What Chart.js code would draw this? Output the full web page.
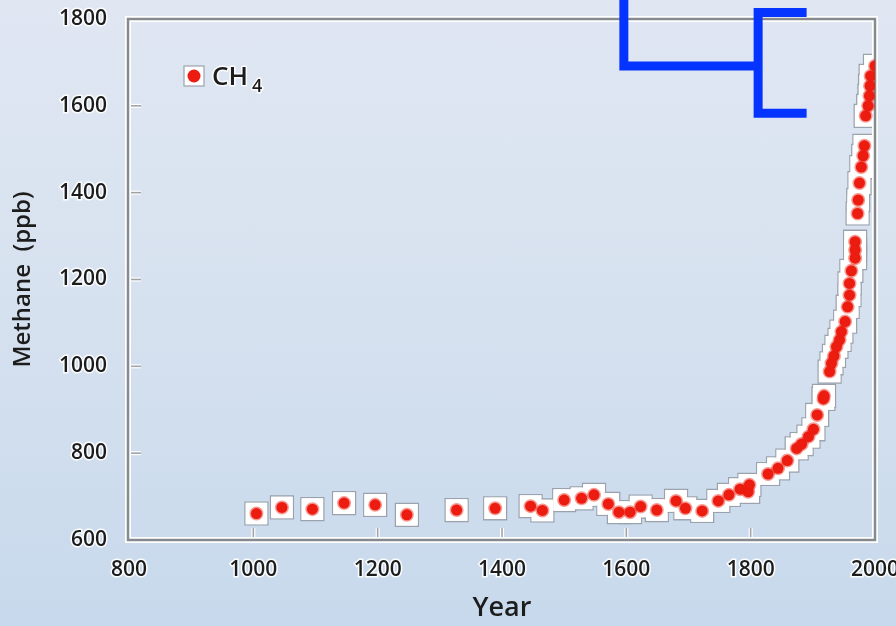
<!DOCTYPE html>
<html>
<head>
<meta charset="utf-8">
<script src="https://cdn.jsdelivr.net/npm/chart.js@4.4.1/dist/chart.umd.min.js"></script>
<style>
  html, body { margin: 0; padding: 0; }
  body {
    width: 896px; height: 626px; overflow: hidden;
    background: linear-gradient(to bottom, #e0e7f3 0%, #d6e1ef 50%, #c7d9ec 100%);
  }
  #wrap { width: 896px; height: 626px; }
</style>
</head>
<body>
<div id="wrap"><canvas id="Methane" width="896" height="626"></canvas></div>
<script>
// ice core / atmospheric methane
var years = [1005, 1046, 1095, 1146, 1196, 1247, 1327, 1389, 1446, 1465,
    1500, 1528, 1548, 1571, 1588, 1606, 1623, 1649, 1680, 1695,
    1722, 1748, 1765, 1783, 1796, 1798, 1828, 1844, 1859, 1874,
    1882, 1893, 1901, 1907, 1917, 1918, 1927, 1930, 1934, 1938,
    1943, 1946, 1952, 1956, 1959, 1959, 1962, 1968, 1968, 1968,
    1972, 1973, 1975, 1978, 1981, 1983, 1985, 1989, 1991, 1992,
    1993, 2000];
var methane = [661, 675, 671, 685, 681, 658, 669, 673, 678, 668,
    692, 696, 704, 683, 664, 664, 677, 669, 690, 673,
    667, 690, 704, 717, 711, 727, 752, 765, 783, 811,
    821, 838, 855, 888, 925, 932, 988, 1007, 1024, 1045,
    1061, 1080, 1103, 1137, 1164, 1191, 1220, 1249, 1268, 1287,
    1352, 1383, 1422, 1459, 1485, 1508, 1577, 1600, 1623, 1646,
    1669, 1692];

var xTicks = [800, 1000, 1200, 1400, 1600, 1800, 2000];
var yTicks = [600, 800, 1000, 1200, 1400, 1600, 1800];

// blue bracket drawn over the top right corner (null = pen up)
var bracketX = [1596, 1596, 1812, 1812, 1890, 1812, 1812, 1890];
var bracketY = [1848, 1692, 1692, null, 1815, 1815, 1583, 1583];

var seriesLabel = "CH4";

function pts(xs, ys) {
    return xs.map(function (x, i) { return { x: x, y: ys[i] }; });
}

var RED = "rgb(236, 28, 16)";
var HALO_EDGE = "#9aa3ad";
var INK = "#1c1c1c";
var FONT = "'Open Sans'";

var frameAndTicks = {
    id: "frameAndTicks",
    afterDatasetDraw: function (chart, args) {
        if (args.index !== 1) return;
        var ctx = chart.ctx, a = chart.chartArea;
        var xs = chart.scales.x, ys = chart.scales.y;
        ctx.save();
        ctx.lineCap = "butt";
        // inward tick marks
        var L = 12;
        function tick(x1, y1, x2, y2) {
            ctx.strokeStyle = "#ffffff";
            ctx.lineWidth = 4;
            ctx.beginPath(); ctx.moveTo(x1, y1); ctx.lineTo(x2, y2); ctx.stroke();
            ctx.strokeStyle = "#a0a4a8";
            ctx.lineWidth = 1.6;
            ctx.beginPath(); ctx.moveTo(x1, y1); ctx.lineTo(x2, y2); ctx.stroke();
        }
        yTicks.slice(1, -1).forEach(function (v) {
            var y = ys.getPixelForValue(v);
            tick(a.left, y, a.left + L, y);
        });
        xTicks.slice(1, -1).forEach(function (v) {
            var x = xs.getPixelForValue(v);
            tick(x, a.bottom, x, a.bottom - L);
        });
        // double-line frame
        ctx.strokeStyle = "#ffffff";
        ctx.lineWidth = 6;
        ctx.strokeRect(a.left - 1, a.top, a.right - a.left + 1, a.bottom - a.top);
        ctx.strokeStyle = "#868a8e";
        ctx.lineWidth = 2.5;
        ctx.strokeRect(a.left - 1, a.top, a.right - a.left + 1, a.bottom - a.top);
        ctx.restore();
    },
    afterDraw: function (chart) {
        var ctx = chart.ctx, a = chart.chartArea;
        var cx = a.left + 65, cy = 76;
        ctx.save();
        ctx.fillStyle = "#ffffff";
        ctx.strokeStyle = HALO_EDGE;
        ctx.lineWidth = 1.2;
        ctx.fillRect(cx - 10, cy - 10, 20, 20);
        ctx.strokeRect(cx - 10, cy - 10, 20, 20);
        ctx.fillStyle = RED;
        ctx.beginPath(); ctx.arc(cx, cy, 6.5, 0, Math.PI * 2); ctx.fill();
        ctx.fillStyle = INK;
        ctx.strokeStyle = "rgba(255,255,255,0.9)";
        ctx.lineWidth = 3;
        ctx.lineJoin = "round";
        ctx.textBaseline = "alphabetic";
        ctx.font = "600 26px " + FONT;
        var base = seriesLabel.slice(0, -1), sub = seriesLabel.slice(-1);
        ctx.strokeText(base, cx + 18, cy + 9);
        ctx.fillText(base, cx + 18, cy + 9);
        var w = ctx.measureText(base).width;
        ctx.font = "600 18px " + FONT;
        ctx.strokeText(sub, cx + 22 + w, cy + 16);
        ctx.fillText(sub, cx + 22 + w, cy + 16);
        ctx.restore();
    }
};

var tickFont = { family: FONT, size: 21, weight: "600" };

document.addEventListener("DOMContentLoaded", function () {
    var ctx = document.getElementById("Methane").getContext("2d");
    var data = pts(years, methane);
    var Methane = new Chart(ctx, {
        type: "scatter",
        data: {
            datasets: [
                {
                    label: seriesLabel,
                    data: data,
                    order: 1,
                    pointRadius: 5.5,
                    pointBackgroundColor: RED,
                    pointBorderColor: "rgba(236, 28, 16, 0.45)",
                    pointBorderWidth: 3,
                },
                {
                    label: "halo",
                    data: data,
                    order: 2,
                    pointStyle: "rect",
                    pointRadius: 15.2,
                    pointBackgroundColor: "#ffffff",
                    pointBorderWidth: 0,
                },
                {
                    label: "halo edge",
                    data: data,
                    order: 3,
                    pointStyle: "rect",
                    pointRadius: 16.2,
                    pointBackgroundColor: "#ffffff",
                    pointBorderColor: HALO_EDGE,
                    pointBorderWidth: 1.3,
                },
                {
                    type: "line",
                    label: "bracket",
                    data: pts(bracketX, bracketY),
                    order: 0,
                    showLine: true,
                    spanGaps: false,
                    clip: false,
                    borderColor: "#0533ff",
                    borderWidth: 9,
                    borderJoinStyle: "miter",
                    borderCapStyle: "butt",
                    pointRadius: 0,
                    tension: 0,
                },
            ],
        },
        options: {
            responsive: false,
            animation: false,
            events: [],
            layout: { padding: { top: 19, right: 21, left: 0, bottom: 0 } },
            scales: {
                x: {
                    type: "linear",
                    min: 800,
                    max: 2000,
                    afterFit: function (s) {
                        s.height = 86;
                        s.paddingLeft = 0;
                        s.paddingRight = 0;
                    },
                    afterBuildTicks: function (s) {
                        s.ticks = xTicks.map(function (v) { return { value: v }; });
                    },
                    grid: { display: false, drawTicks: false },
                    border: { display: false },
                    ticks: {
                        padding: 17,
                        color: INK,
                        font: tickFont,
                        textStrokeColor: "rgba(255,255,255,0.9)",
                        textStrokeWidth: 3,
                        maxRotation: 0,
                        callback: function (v) { return String(v); },
                    },
                    title: {
                        display: true,
                        text: "Year",
                        color: INK,
                        font: { family: FONT, size: 27, weight: "600" },
                        padding: { top: 0, bottom: 1 },
                    },
                },
                y: {
                    min: 600,
                    max: 1800,
                    afterFit: function (s) {
                        s.width = 129;
                        s.paddingTop = 0;
                        s.paddingBottom = 0;
                    },
                    afterBuildTicks: function (s) {
                        s.ticks = yTicks.map(function (v) { return { value: v }; });
                    },
                    grid: { display: false, drawTicks: false },
                    border: { display: false },
                    ticks: {
                        padding: 22,
                        color: INK,
                        font: tickFont,
                        textStrokeColor: "rgba(255,255,255,0.9)",
                        textStrokeWidth: 3,
                        callback: function (v) { return String(v); },
                    },
                    title: {
                        display: true,
                        text: "Methane  (ppb)",
                        color: INK,
                        font: { family: FONT, size: 24, weight: "600" },
                        padding: { top: 9, bottom: 0 },
                    },
                },
            },
            plugins: {
                legend: { display: false },
                tooltip: { enabled: false },
            },
        },
        plugins: [frameAndTicks],
    });
});
</script>
</body>
</html>
